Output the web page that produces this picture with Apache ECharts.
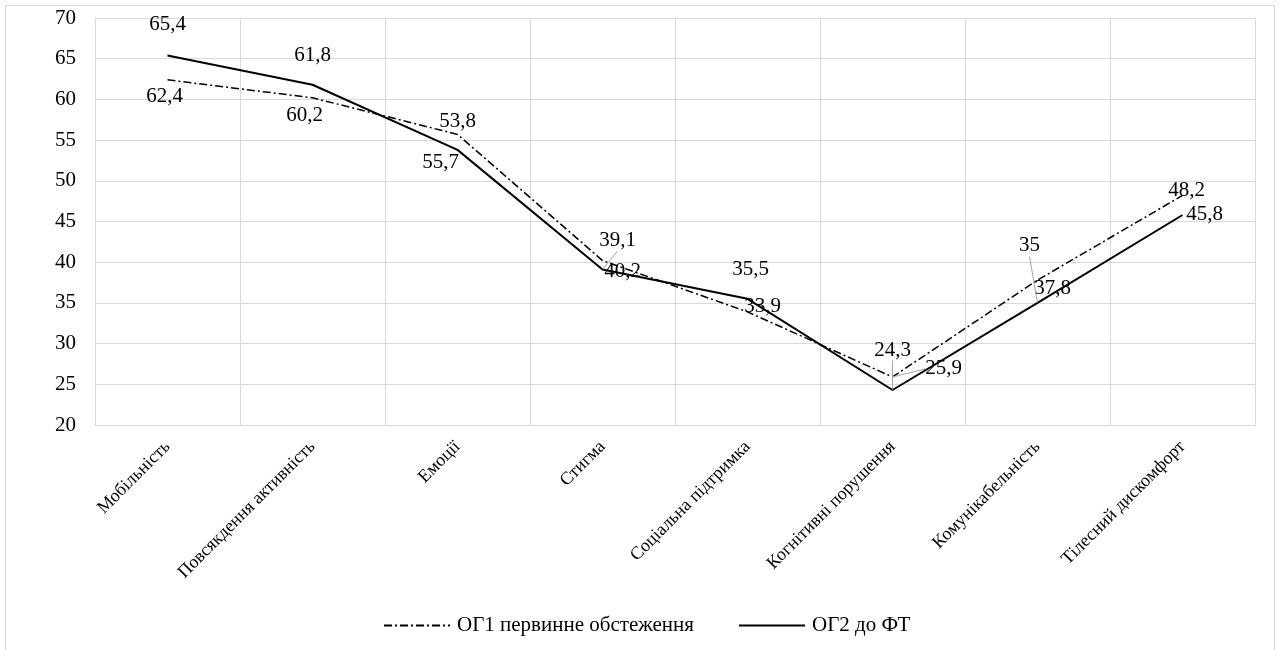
<!DOCTYPE html>
<html>
<head>
<meta charset="utf-8">
<script src="https://cdn.jsdelivr.net/npm/echarts@6/dist/echarts.min.js"></script>
<style>
  html, body { margin: 0; padding: 0; background: #fff; }
  #chart { width: 1280px; height: 650px; }
</style>
</head>
<body>
<div id="chart"></div>
<script>
// Quality-of-life domains
const categories = [
  'Мобільність',
  'Повсякдення активність',
  'Емоції',
  'Стигма',
  'Соціальна підтримка',
  'Когнітивні порушення',
  'Комунікабельність',
  'Тілесний дискомфорт'
];

// Group scores
const og1Name = 'ОГ1 первинне обстеження';
const og1Values = [62.4, 60.2, 55.7, 40.2, 33.9, 25.9, 37.8, 48.2];

const og2Name = 'ОГ2 до ФТ';
const og2Values = [65.4, 61.8, 53.8, 39.1, 35.5, 24.3, 35, 45.8];

// Y axis range
const yMin = 20, yMax = 70, yStep = 5;

// Label offsets (px from each point) chosen so labels don't sit on the lines
const og1LabelOffsets = [[-3, 17], [-8, 18], [-17, 28], [20, 11], [15, -5], [51, -8], [15, 8], [4, -5]];
const og2LabelOffsets = [[0, -31], [0, -29], [0, -28], [15, -29], [3, -29], [0, -40], [-8, -57], [22, -1]];
// Points whose labels get a grey leader line
const og1Leader = [false, false, false, false, false, true, false, false];
const og2Leader = [false, false, false, true, false, true, true, false];

const FONT = 'Liberation Serif';
const FS = 21;
const fmt = v => String(v).replace('.', ',');

function buildData(values, offsets, leaders) {
  return values.map((v, i) => ({
    value: v,
    label: { offset: offsets[i] },
    labelLine: { show: leaders[i] }
  }));
}

const chart = echarts.init(document.getElementById('chart'), null, { renderer: 'canvas' });

const labelStyle = {
  show: true,
  position: 'inside',
  align: 'center',
  verticalAlign: 'middle',
  color: '#000',
  fontFamily: FONT,
  fontSize: FS,
  formatter: p => fmt(p.value)
};

chart.setOption({
  animation: false,
  backgroundColor: '#fff',
  graphic: [{
    type: 'rect',
    shape: { x: 5.5, y: 5.5, width: 1269, height: 660 },
    style: { fill: 'none', stroke: '#d9d9d9', lineWidth: 1 },
    silent: true,
    z: -1
  }],
  grid: { left: 95, right: 25, top: 18, bottom: 225, containLabel: false },
  legend: {
    top: 610,
    left: 378,
    itemWidth: 66,
    itemHeight: 12,
    itemGap: 44,
    textStyle: { fontFamily: FONT, fontSize: FS, color: '#000', padding: [0, 0, 0, 2] },
    data: [og1Name, og2Name]
  },
  xAxis: {
    type: 'category',
    data: categories,
    boundaryGap: true,
    axisLine: { show: true, lineStyle: { color: '#d9d9d9', width: 1 } },
    axisTick: { show: false },
    splitLine: { show: true, lineStyle: { color: '#d9d9d9', width: 1 } },
    axisLabel: {
      interval: 0,
      rotate: 45,
      margin: 19,
      color: '#000',
      fontFamily: FONT,
      fontSize: 18
    }
  },
  yAxis: {
    type: 'value',
    min: yMin,
    max: yMax,
    interval: yStep,
    axisLine: { show: true, lineStyle: { color: '#d9d9d9', width: 1 } },
    axisTick: { show: false },
    splitLine: { show: true, lineStyle: { color: '#d9d9d9', width: 1 } },
    axisLabel: {
      margin: 19,
      color: '#000',
      fontFamily: FONT,
      fontSize: FS
    }
  },
  series: [
    {
      name: og1Name,
      type: 'line',
      data: buildData(og1Values, og1LabelOffsets, og1Leader),
      symbol: 'circle',
      symbolSize: 1,
      itemStyle: { color: 'rgba(0,0,0,0)' },
      lineStyle: { color: '#000', width: 1.5, type: [8, 3, 2, 3] },
      label: labelStyle,
      labelLine: { show: false, lineStyle: { color: '#a6a6a6', width: 1 } },
      z: 3
    },
    {
      name: og2Name,
      type: 'line',
      data: buildData(og2Values, og2LabelOffsets, og2Leader),
      symbol: 'circle',
      symbolSize: 1,
      itemStyle: { color: 'rgba(0,0,0,0)' },
      lineStyle: { color: '#000', width: 2 },
      label: labelStyle,
      labelLine: { show: false, lineStyle: { color: '#a6a6a6', width: 1 } },
      z: 4
    }
  ]
});
</script>
</body>
</html>
